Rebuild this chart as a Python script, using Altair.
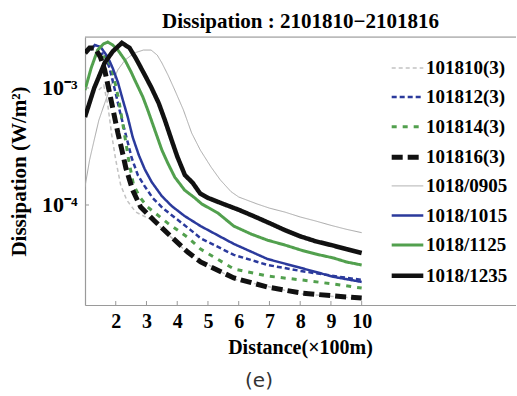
import altair as alt
import pandas as pd

# Legend order, colours and line styles of the eight runs
SERIES = ["101810(3)", "101812(3)", "101814(3)", "101816(3)",
          "1018/0905", "1018/1015", "1018/1125", "1018/1235"]
COLORS = ["#c2c2c2", "#2b3a9c", "#52a04e", "#111111",
          "#a9a9a9", "#2b3a9c", "#52a04e", "#111111"]
DASHES = [[4, 3], [5, 3], [5, 6], [11, 5], [1, 0], [1, 0], [1, 0], [1, 0]]
WIDTHS = [1.5, 2.5, 3, 5, 1, 2.5, 3, 4.5]

# Distance (x100 m) and dissipation (W/m^2) of each run
x_101810 = [1.45, 1.61, 1.74, 1.87, 2.0, 2.16, 2.36, 2.65, 3.24, 4.34, 5.84, 8.02, 10.0]
y_101810 = [9.6e-4, 1.06e-3, 7.2e-4, 3.96e-4, 2.43e-4, 1.48e-4, 1.1e-4, 8.7e-5, 7.3e-5,
            3.89e-5, 2.33e-5, 1.74e-5, 1.58e-5]

x_101812 = [1.45, 1.61, 1.8, 1.99, 2.16, 2.33, 2.52, 2.72, 2.94, 3.2, 3.53, 3.95, 4.44,
            4.76, 5.84, 6.94, 8.02, 9.09, 10.0]
y_101812 = [1.91e-3, 1.99e-3, 1.48e-3, 9.2e-4, 5.9e-4, 3.96e-4, 2.52e-4, 1.8e-4, 1.45e-4,
            1.15e-4, 9.4e-5, 7.7e-5, 6.1e-5, 5.2e-5, 3.75e-5, 3.07e-5, 2.73e-5, 2.47e-5, 2.29e-5]

x_101814 = [1.51, 1.71, 1.9, 2.1, 2.29, 2.42, 2.58, 2.8, 3.04, 3.69, 4.34, 4.76, 5.84,
            6.94, 8.02, 9.09, 10.0]
y_101814 = [1.8e-3, 1.88e-3, 1.37e-3, 7.9e-4, 3.96e-4, 2.43e-4, 1.48e-4, 1.15e-4, 9.6e-5,
            7.0e-5, 5.3e-5, 4.2e-5, 2.84e-5, 2.47e-5, 2.29e-5, 2.11e-5, 1.95e-5]

x_101816 = [1.0, 1.15, 1.32, 1.5, 1.64, 1.87, 2.07, 2.2, 2.33, 2.55, 2.81, 3.24, 3.79,
            4.34, 4.76, 5.84, 6.94, 8.02, 9.09, 10.0]
y_101816 = [1.99e-3, 2.2e-3, 2.2e-3, 1.84e-3, 1.43e-3, 7.4e-4, 4.12e-4, 2.95e-4, 2.07e-4,
            1.34e-4, 9.6e-5, 7.4e-5, 5.4e-5, 3.96e-5, 3.26e-5, 2.38e-5, 1.99e-5, 1.77e-5,
            1.67e-5, 1.6e-5]

x_0905 = [1.0, 1.15, 1.3, 1.45, 1.64, 1.85, 2.07, 2.3, 2.6, 2.9, 3.15, 3.35, 3.5, 3.7,
          3.92, 4.2, 4.47, 4.75, 5.1, 5.4, 5.75, 6.0, 6.6, 7.0, 7.5, 8.0, 8.5, 9.0, 9.5, 10.0]
y_0905 = [1.43e-4, 2.43e-4, 3.6e-4, 5.3e-4, 7.4e-4, 1.06e-3, 1.43e-3, 1.73e-3, 1.99e-3,
          2.11e-3, 2.11e-3, 1.91e-3, 1.64e-3, 1.29e-3, 9.6e-4, 6.5e-4, 4.12e-4, 2.95e-4,
          2.11e-4, 1.64e-4, 1.3e-4, 1.17e-4, 1.02e-4, 9.4e-5, 8.7e-5, 7.9e-5, 7.3e-5,
          6.7e-5, 6.2e-5, 5.8e-5]

x_1015 = [1.19, 1.32, 1.51, 1.74, 1.9, 2.07, 2.23, 2.39, 2.55, 2.75, 2.94, 3.17, 3.5,
          3.82, 4.24, 4.76, 5.84, 6.94, 8.02, 9.09, 10.0]
y_1015 = [2.11e-3, 2.33e-3, 2.24e-3, 1.84e-3, 1.48e-3, 1.12e-3, 7.9e-4, 5.65e-4, 3.81e-4,
          2.67e-4, 2.03e-4, 1.57e-4, 1.19e-4, 9.8e-5, 8.05e-5, 6.6e-5, 4.65e-5, 3.45e-5,
          2.9e-5, 2.43e-5, 2.2e-5]

x_1125 = [1.0, 1.2, 1.41, 1.6, 1.74, 1.9, 2.07, 2.3, 2.5, 2.62, 2.88, 3.04, 3.27, 3.5,
          3.69, 3.92, 4.24, 4.57, 4.8, 5.32, 5.84, 6.4, 6.94, 7.5, 8.02, 8.5, 9.09, 9.5, 10.0]
y_1125 = [9.6e-4, 1.48e-3, 2.11e-3, 2.38e-3, 2.47e-3, 2.33e-3, 2.11e-3, 1.73e-3, 1.37e-3,
          1.17e-3, 8.4e-4, 6.5e-4, 4.38e-4, 2.95e-4, 2.29e-4, 1.73e-4, 1.34e-4, 1.15e-4,
          1.02e-4, 8.55e-5, 6.6e-5, 5.65e-5, 5.0e-5, 4.55e-5, 4.12e-5, 3.81e-5, 3.52e-5,
          3.26e-5, 3.07e-5]

x_1235 = [1.0, 1.3, 1.64, 1.9, 2.2, 2.45, 2.65, 2.9, 3.15, 3.4, 3.6, 3.8, 4.0, 4.25, 4.5,
          4.75, 5.0, 5.5, 6.0, 6.5, 7.0, 7.5, 8.0, 8.5, 9.0, 9.5, 10.0]
y_1235 = [5.65e-4, 1.0e-3, 1.64e-3, 2.05e-3, 2.43e-3, 2.2e-3, 1.8e-3, 1.36e-3, 1.02e-3,
          7.4e-4, 5.3e-4, 3.7e-4, 2.6e-4, 1.8e-4, 1.55e-4, 1.25e-4, 1.15e-4, 1.02e-4,
          9.1e-5, 8.0e-5, 7.0e-5, 6.1e-5, 5.4e-5, 4.9e-5, 4.55e-5, 4.2e-5, 3.89e-5]

X_TICKS = [2, 3, 4, 5, 6, 7, 8, 9, 10]
Y_TICKS = [1e-3, 1e-4]

# Thin and light runs first so the heavy black curves sit on top
DRAW_ORDER = [
    ("1018/0905", x_0905, y_0905),
    ("101810(3)", x_101810, y_101810),
    ("101812(3)", x_101812, y_101812),
    ("101814(3)", x_101814, y_101814),
    ("1018/1015", x_1015, y_1015),
    ("1018/1125", x_1125, y_1125),
    ("101816(3)", x_101816, y_101816),
    ("1018/1235", x_1235, y_1235),
]

rows = []
for name, xs, ys in DRAW_ORDER:
    for i, (xv, yv) in enumerate(zip(xs, ys)):
        rows.append({"run": name, "distance": xv, "diss": yv, "i": i})
df = pd.DataFrame(rows)

W, H = 431, 268
SERIF = "Liberation Serif"
FRAME = "#9a9a9a"

x_scale = alt.Scale(domain=[1, 15.02], nice=False, zero=False)
y_scale = alt.Scale(type="log", domain=[1.397e-5, 2.728e-3], nice=False)

x_axis = alt.Axis(
    values=X_TICKS, format="d", labelFont=SERIF, labelFontSize=20,
    labelFontWeight="bold", labelColor="black", labelPadding=6,
    ticks=False, grid=False, domainColor=FRAME, domainWidth=1.2, labelFlush=False,
    title="Distance(×100m)", titleFont=SERIF, titleFontSize=20,
    titleFontWeight="bold", titleColor="black", titleX=215, titleY=48,
    titleAlign="center", titleBaseline="alphabetic")
y_axis = alt.Axis(
    values=Y_TICKS, labelExpr="datum.value >= 0.00099 ? '10⁻³' : '10⁻⁴'",
    labelFont=SERIF, labelFontSize=22, labelFontWeight="bold", labelColor="black",
    labelPadding=8, ticks=False, grid=False, domainColor=FRAME, domainWidth=1.2,
    title="Dissipation (W/m²)", titleFont=SERIF, titleFontSize=21,
    titleFontWeight="bold", titleColor="black", titleAngle=270,
    titleX=-60, titleY=134, titleAlign="center", titleBaseline="alphabetic")

legend = alt.Legend(
    orient="none", legendX=304, legendY=14, title=None,
    labelFont=SERIF, labelFontSize=19, labelFontWeight="bold", labelColor="black",
    symbolType="stroke", symbolSize=1000, labelOffset=0, rowPadding=1.6, padding=0,
)

lines = alt.Chart(df).mark_line(strokeCap="butt", clip=True).encode(
    x=alt.X("distance:Q", scale=x_scale, axis=x_axis),
    y=alt.Y("diss:Q", scale=y_scale, axis=y_axis),
    color=alt.Color("run:O", scale=alt.Scale(domain=SERIES, range=COLORS), legend=legend),
    strokeDash=alt.StrokeDash("run:O", scale=alt.Scale(type="ordinal", domain=SERIES, range=DASHES),
                              legend=legend),
    strokeWidth=alt.StrokeWidth("run:O", scale=alt.Scale(type="ordinal", domain=SERIES, range=WIDTHS),
                                legend=legend),
    order="i:Q",
)

# Inward tick marks on the bottom and left axes
x_ticks = alt.Chart(pd.DataFrame({"distance": X_TICKS})).mark_rule(color=FRAME).encode(
    x=alt.X("distance:Q", scale=x_scale, axis=x_axis),
    y=alt.value(H), y2=alt.value(H - 4),
)
y_ticks = alt.Chart(pd.DataFrame({"diss": Y_TICKS})).mark_rule(color=FRAME).encode(
    y=alt.Y("diss:Q", scale=y_scale, axis=y_axis),
    x=alt.value(0), x2=alt.value(4),
)

# Upper frame line
top_edge = alt.Chart(pd.DataFrame({"edge": [0]})).mark_rule(color=FRAME, strokeWidth=1.2).encode(
    x=alt.value(0), x2=alt.value(W), y=alt.value(0),
)

# Panel letter under the axis title
caption = alt.Chart(pd.DataFrame({"caption": ["(e)"]})).mark_text(
    font="DejaVu Sans", fontSize=20, color="#333333", baseline="middle", align="center"
).encode(text="caption:N", x=alt.value(174), y=alt.value(344))

chart = alt.layer(lines, x_ticks, y_ticks, top_edge, caption).properties(
    width=W, height=H,
    title=alt.Title("Dissipation : 2101810−2101816", font=SERIF, fontSize=21,
                    fontWeight="bold", color="black", anchor="middle",
                    baseline="alphabetic", offset=10, dy=23),
    autosize=alt.AutoSizeParams(type="none"),
    padding={"left": 85, "top": 37, "right": 0, "bottom": 87},
).configure_view(stroke=None).configure(background="white")

chart.save("out.html", embed_options={"renderer": "svg", "actions": False})
